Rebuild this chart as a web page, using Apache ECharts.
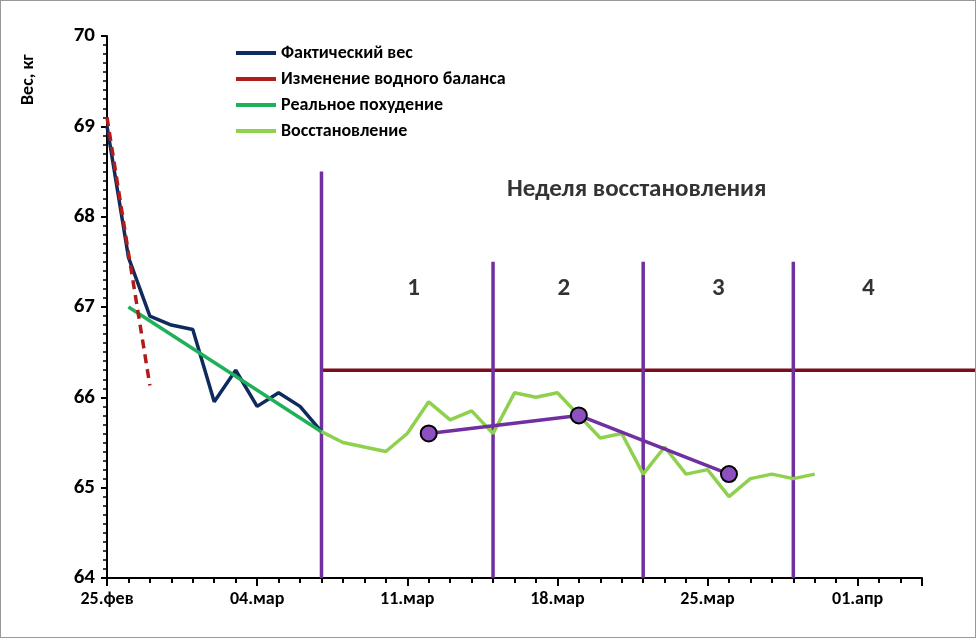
<!DOCTYPE html><html><head><meta charset="utf-8"><script src="https://cdn.jsdelivr.net/npm/echarts@6/dist/echarts.min.js"></script>
<style>html,body{margin:0;padding:0}#c{width:974px;height:636px;border:1px solid #999}</style></head><body><div id="c"></div><script>
const dateLabels={0:'25.фев',7:'04.мар',14:'11.мар',21:'18.мар',28:'25.мар',35:'01.апр'};
const actualDays=[0,1,2,3,4,5,6,7,8,9,10];
const actualVals=[69.0,67.55,66.9,66.8,66.75,65.95,66.3,65.9,66.05,65.9,65.62];
const waterDays=[0,1,2];
const waterVals=[69.1,67.6,66.13];
const realDays=[1,10];
const realVals=[67.0,65.62];
const recDays=[10,11,12,13,14,15,16,17,18,19,20,21,22,23,24,25,26,27,28,29,30,31,32,33];
const recVals=[65.62,65.5,65.45,65.4,65.6,65.95,65.75,65.85,65.6,66.05,66.0,66.05,65.8,65.55,65.6,65.15,65.45,65.15,65.2,64.9,65.1,65.15,65.1,65.15];
const trendDays=[15,22,29];
const trendVals=[65.6,65.8,65.15];
const weekLines=[[10,68.5],[18,67.5],[25,67.5],[32,67.5]];
const baseline=66.3;
const weekNums=['1','2','3','4'];
const weekNumDays=[14.3,21.3,28.5,35.5];
const z=(a,b)=>a.map((d,i)=>[d,b[i]]);
const ch=echarts.init(document.getElementById('c'));
const f='Calibri, "Open Sans", "Liberation Sans", Arial, sans-serif';
const series=[
{name:'Фактический вес',type:'line',color:'#0f2a5c',data:z(actualDays,actualVals),symbol:'none',lineStyle:{color:'#0f2a5c',width:3.5},z:3},
{name:'Изменение водного баланса',type:'line',color:'#b01c1c',data:z(waterDays,waterVals),symbol:'none',lineStyle:{color:'#b01c1c',width:3.5,type:[9,6]},z:4},
{name:'Реальное похудение',type:'line',color:'#1fb05a',data:z(realDays,realVals),symbol:'none',lineStyle:{color:'#1fb05a',width:3.5},z:3},
{name:'Восстановление',type:'line',color:'#8fd14f',data:z(recDays,recVals),symbol:'none',lineStyle:{color:'#8fd14f',width:3.5},z:3},
{name:'trend',type:'line',data:z(trendDays,trendVals),symbol:'circle',symbolSize:16,itemStyle:{color:'#8e4fc0',borderColor:'#000',borderWidth:2},lineStyle:{color:'#7030a0',width:3.5},z:5},
{name:'base',type:'line',data:[[10,baseline],[38,baseline]],symbol:'none',lineStyle:{color:'#7b0c1e',width:3.5},z:2}
];
weekLines.forEach((w,i)=>series.push({name:'w'+i,type:'line',data:[[w[0],64],[w[0],w[1]]],symbol:'none',lineStyle:{color:'#7030a0',width:3.5},z:2}));
series.push({name:'nums',type:'scatter',symbolSize:0,data:weekNumDays.map((d,i)=>({value:[d,67.2],label:{show:true,formatter:weekNums[i],fontSize:25,fontWeight:'bold',color:'#000',fontFamily:f}}))});
series.push({name:'title',type:'scatter',symbolSize:0,data:[{value:[24.7,68.3],label:{show:true,formatter:'Неделя восстановления',fontSize:25,fontWeight:'bold',color:'#000',fontFamily:f}}]});
ch.setOption({animation:false,backgroundColor:'#fff',
grid:{left:106,right:53,top:35,bottom:59,outerBoundsMode:'none',containLabel:false},
legend:{data:['Фактический вес','Изменение водного баланса','Реальное похудение','Восстановление'],orient:'vertical',left:230,top:38,itemGap:8,itemWidth:40,itemHeight:4,textStyle:{fontSize:18,fontWeight:'bold',fontFamily:f,color:'#000'},icon:'rect'},
xAxis:{type:'value',min:0,max:38,interval:7,axisLine:{lineStyle:{color:'#000',width:2}},axisTick:{length:8,lineStyle:{color:'#000',width:2}},minorTick:{show:true,splitNumber:7,length:5,lineStyle:{color:'#000',width:2}},splitLine:{show:false},axisLabel:{formatter:v=>dateLabels[v]||'',fontSize:18,fontWeight:'bold',color:'#000',fontFamily:f,margin:12}},
yAxis:{type:'value',min:64,max:70,interval:1,axisLine:{show:true,lineStyle:{color:'#000',width:2}},axisTick:{length:6,lineStyle:{color:'#000',width:2}},minorTick:{show:true,splitNumber:10,length:4,lineStyle:{color:'#000',width:1.5}},splitLine:{show:false},axisLabel:{fontSize:21,fontWeight:'bold',color:'#000',fontFamily:f,margin:12}},
series});
const p1=ch.convertToPixel({gridIndex:0},[38,baseline]);
ch.setOption({graphic:[
{type:'line',shape:{x1:p1[0],y1:p1[1],x2:976,y2:p1[1]},style:{stroke:'#7b0c1e',lineWidth:3.5},z:2},
{type:'text',x:18,y:104,rotation:Math.PI/2,style:{text:'Вес, кг',font:'bold 18px '+f,fill:'#000'}}
]});
</script></body></html>
